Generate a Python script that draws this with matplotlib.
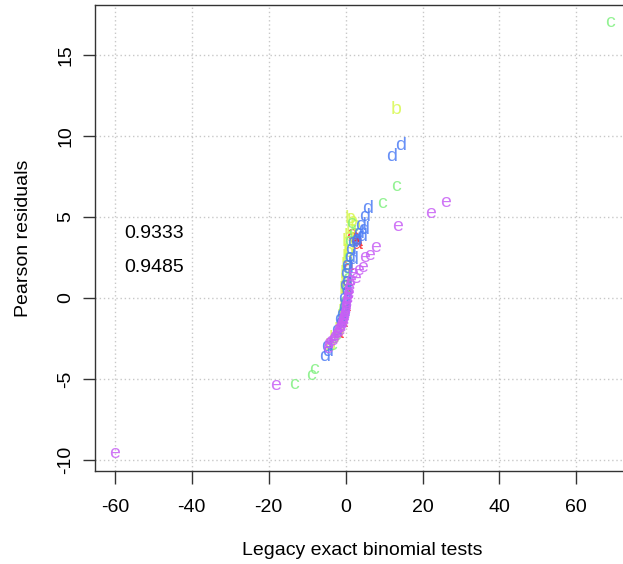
import matplotlib
matplotlib.use("Agg")
import matplotlib.pyplot as plt

plt.rcParams['font.family'] = ['Liberation Sans', 'DejaVu Sans']

# ---- data ----
groups = ['a', 'b', 'c', 'd', 'e']
colors = ['#FF2020', '#D8F850', '#80F080', '#4D7DF5', '#C860F5']

a_x = [2.2, 2.8, 1.5, 3.0, 2.5, 0.5, 0.2, 0.0, -0.3, -1.0, -2.0]
a_y = [3.7, 3.5, 3.9, 3.3, 3.6, 2.0, 1.0, 0.5, -0.5, -1.5, -2.2]

b_x = [13.2, 1.8, 1.5, 1.0, 2.5, 0.5, 0.8, 0.3, 0.0, -0.3, -0.5, -1.0, -1.8, -3.0, -4.0,
       1.2, 0.6, 0.1, -0.2, -0.7]
b_y = [11.6, 4.7, 4.2, 3.8, 4.5, 3.5, 3.0, 2.5, 1.5, 0.5, -0.5, -1.2, -2.0, -2.5, -3.0,
       4.9, 2.8, 2.0, 1.0, -0.9]

c_x = [68.8, 13.0, 9.4, -9.1, -8.3, -13.5, 2.0, 1.0, 0.5, 0.2, -0.2, -0.8, -1.5, -2.5, -3.5,
       1.5, 0.3, -0.5]
c_y = [17.0, 6.9, 5.8, -4.8, -4.4, -5.35, 4.0, 3.5, 2.5, 1.8, 0.5, -0.8, -1.6, -2.3, -2.9,
       4.6, 1.2, -0.2]

d_x = [14.3, 11.9, 5.7, 4.9, 4.7, 3.9, 3.5, 2.5, 1.8, 1.8, 1.0, 0.3, 0.2, 0.0, -0.2, -0.4,
       -0.6, -0.9, -1.2, -4.6, -5.0, -5.5, 4.2, 3.0, 1.2, 0.6, 0.4, -0.1, -0.3, -1.5, -2.2]
d_y = [9.4, 8.7, 5.5, 5.0, 4.25, 4.5, 4.0, 3.5, 3.4, 2.4, 2.5, 1.0, 2.0, 1.5, 0.8, 0.0,
       -0.6, -1.0, -1.5, -3.3, -3.0, -3.6, 3.8, 3.6, 3.0, 1.8, 0.4, -0.3, -0.8, -1.3, -2.0]

e_x = [-60.0, -18.2, 26.0, 22.1, 13.4, 7.8, 6.3, 4.4, 2.6, 1.8, 1.0, 0.8, 0.5, 0.2, 0.0,
       -0.2, -0.4, -0.6, -0.8, -1.2, -1.5, -2.0, -2.8, -3.5, -4.3, -4.7,
       5.0, 3.4, 1.4, 0.9, 0.6, 0.3, 0.1, -0.1, -0.3, -0.5, -0.7, -1.0, -1.3, -1.8, -2.4,
       -3.1, -3.9]
e_y = [-9.6, -5.4, 5.9, 5.2, 4.4, 3.1, 2.6, 1.9, 1.2, 1.5, 0.8, 0.3, 0.0, -0.3, -0.6,
       -0.9, -1.2, -1.4, -1.6, -1.8, -2.0, -2.1, -2.4, -2.6, -2.8, -3.1,
       2.5, 1.7, 1.1, 0.6, 0.2, -0.1, -0.4, -0.7, -1.0, -1.1, -1.3, -1.5, -1.7, -1.9, -2.2,
       -2.5, -2.7]

xs = [a_x, b_x, c_x, d_x, e_x]
ys = [a_y, b_y, c_y, d_y, e_y]

x_ticks = [-60, -40, -20, 0, 20, 40, 60]
y_ticks = [-10, -5, 0, 5, 10, 15]
annot_values = ['0.9333', '0.9485']
annot_x = -57.5
annot_y = [4.0, 1.9]

# ---- figure ----
W, H = 623, 564
fig = plt.figure(figsize=(W / 100, H / 100), dpi=100)
left, right, top, bottom = 95, 630, 5, 471
ax = fig.add_axes([left / W, 1 - bottom / H, (right - left) / W, (bottom - top) / H])

ax.set_xlim(-65.15, 73.95)
ax.set_ylim(-10.66, 18.06)

for g, gx, gy, col in zip(groups, xs, ys, colors):
    for x, y in zip(gx, gy):
        ax.text(x, y, g, color=col, fontsize=14, ha='center', va='center', alpha=0.85)

for v, yy in zip(annot_values, annot_y):
    ax.text(annot_x, yy, v, fontsize=14, ha='left', va='center', color='black')

ax.set_xticks(x_ticks)
ax.set_yticks(y_ticks)
ax.set_xticklabels([str(t) for t in x_ticks])
ax.set_yticklabels([str(t) for t in y_ticks], rotation=90, va='center')
ax.tick_params(axis='both', direction='out', length=9, width=1, labelsize=14, color='#333333')
ax.tick_params(axis='x', pad=11)
ax.tick_params(axis='y', pad=6)
ax.grid(True, color='#c8c8c8', linestyle=(0, (1, 2)), linewidth=1)
ax.set_axisbelow(True)
for s in ax.spines.values():
    s.set_color('#333333')
    s.set_linewidth(1)

ax.set_xlabel('Legacy exact binomial tests', fontsize=14, labelpad=19)
ax.set_ylabel('Pearson residuals', fontsize=14, labelpad=18)

fig.savefig('out.png', dpi=100)
